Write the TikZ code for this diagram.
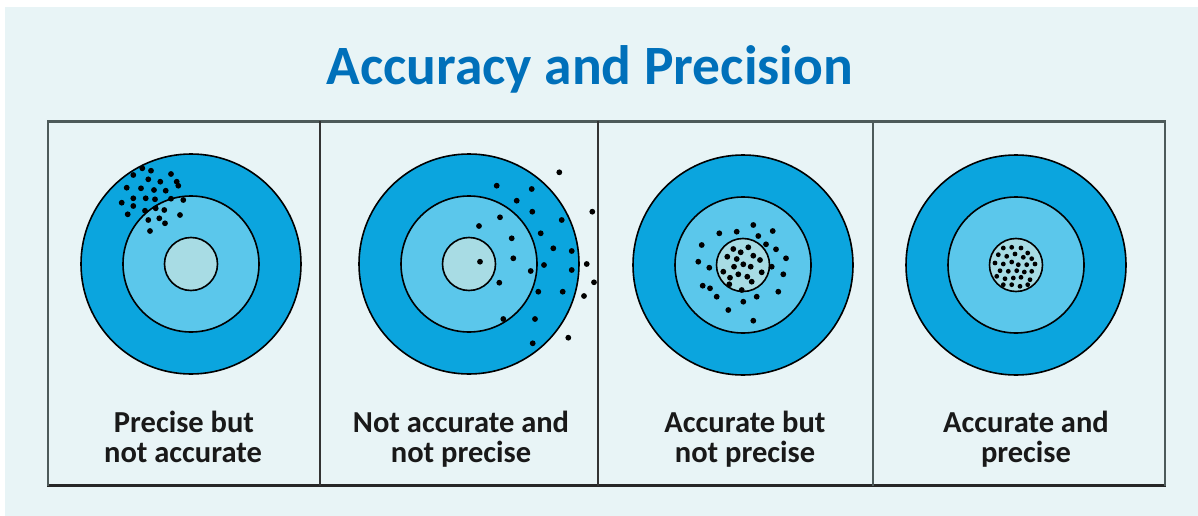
\documentclass[tikz,border=0pt]{standalone}
\usepackage{fontspec}
\setmainfont{Carlito}
\definecolor{bgc}{HTML}{E8F4F6}
\definecolor{outerc}{HTML}{0BA5DE}
\definecolor{midc}{HTML}{5BC7EB}
\definecolor{innerc}{HTML}{A8DCE4}
\definecolor{titlec}{HTML}{0070BA}
\definecolor{framec}{HTML}{4D5A5A}
\tikzset{
  ring/.style={draw=black, line width=1.6pt},
  dot/.style={fill=black},
  lbl/.style={font=\fontsize{30.5}{30}\selectfont\bfseries, text=black!90, align=center, inner sep=0pt},
}
\newcommand{\target}[3]{% x y name
  \fill[ring, fill=outerc] (#1,#2) circle (110pt);
  \fill[ring, fill=midc] (#1,#2) circle (68pt);
  \fill[ring, fill=innerc] (#1,#2) circle (26.5pt);
  \coordinate (#3) at (#1,#2);
}
\begin{document}
\begin{tikzpicture}[x=1pt,y=-1pt]
\useasboundingbox (0,0) rectangle (1198,516);
\fill[white] (0,0) rectangle (1198,516);
\fill[bgc] (5,7) rectangle (1198,516);
% title
\node[font=\fontsize{55.5}{55}\selectfont\bfseries, text=titlec, anchor=base, inner sep=0pt] (title) at (590,85) {Accuracy and Precision};
% frame
\draw[framec, line width=3pt] (47,121.5) -- (1166,121.5);
\draw[black!85, line width=3pt] (47,485.5) -- (1166,485.5);
\draw[framec, line width=2pt] (48,121) -- (48,486);
\draw[framec, line width=2pt] (1165,121) -- (1165,486);
\draw[black!80, line width=2pt] (320,121) -- (320,486);
\draw[black!80, line width=2pt] (598,121) -- (598,486);
\draw[framec, line width=2pt] (873,121) -- (873,486);
% targets
\target{191}{264}{t1}
\target{469}{264}{t2}
\target{743}{265}{t3}
\target{1016}{265}{t4}
% dots panel 1
\foreach \x/\y in {142.3/168.3,151/170.7,133.3/175,171/174,148.3/179.3,160.3/181.7,176.7/181.7,178.3/185.7,126.7/187.7,141/188.3,154/190,165.7/190.7,121.7/202.7,133.3/198.3,145.7/198.3,155/199.3,171/198.7,183.3/200,133.3/206,145/210.7,155.7/208.3,164.3/210,127.7/214.3,180/215,148.3/220,159.3/218.3,165/223.3,150/231}
  \fill[dot] (\x,\y) circle (2.9pt);
% dots panel 2
\foreach \x/\y in {559.3/172.3,496.7/185.7,531.7/189,516.7/200.7,532.3/211.7,500/217.3,592.3/211.7,561.7/220,479/226,540.7/233.3,511.7/238.3,553.3/248.3,571.7/251,480/261.7,513.3/258.3,544/265,586.7/264,530.7/271,571.7/270,499.3/282.7,594/282.3,538.3/291.7,562.7/291.7,584/296,535/319,503.3/319,532.7/343.3,568.3/337.7}
  \fill[dot] (\x,\y) circle (2.9pt);
% dots panel 3
\foreach \x/\y in {753.3/225,719.3/233.3,736.7/231.7,772.7/231,758.3/236,701.7/245,766/244.3,733.3/249,748.3/247.3,776/249.3,727.3/256.7,740.7/252.3,753.3/255.7,786/258.3,698.3/261.7,736.7/259,760/260,709.3/267.7,734/266.7,743.3/264.3,750.7/266.7,771.7/266.7,723.3/271.7,738.3/274.3,761.7/272.3,783.3/274.3,730/277.7,747.3/276.7,729.3/284.3,751.7/281.7,702.7/285.7,710/288.3,741.7/290,778.3/291.7,716.7/296.7,756.7/296.7,743.3/301.7,728.3/310,753.3/320.7}
  \fill[dot] (\x,\y) circle (2.9pt);
% dots panel 4
\foreach \x/\y in {1003.3/248,1011.7/247.3,1021/248,1027.7/253,998.3/254.7,1006.7/256.3,1015/254,1023.3/257.3,1031.7/258.7,995/263,1003.3/264,1011.7/262,1018.3/264.7,1026.7/264.7,1035/264,1000/270.7,1008.3/271.3,1016.7/270.7,1024.3/272,1031.7/271.3,996.7/276.3,1005/278.7,1013.3/278,1021/277.3,1030/279.7,1003.3/284.7,1011.7/284.7,1020/286.3,1027.7/284.7}
  \fill[dot] (\x,\y) circle (2.4pt);
% labels
\node[lbl, anchor=base] (l1a) at (184,432) {Precise but};
\node[lbl, anchor=base] (l1b) at (183,462) {not accurate};
\node[lbl, anchor=base] (l2a) at (461,432) {Not accurate and};
\node[lbl, anchor=base] (l2b) at (461,462) {not precise};
\node[lbl, anchor=base] (l3a) at (745,432) {Accurate but};
\node[lbl, anchor=base] (l3b) at (745,462) {not precise};
\node[lbl, anchor=base] (l4a) at (1026,432) {Accurate and};
\node[lbl, anchor=base] (l4b) at (1026,462) {precise};
\end{tikzpicture}
\end{document}
